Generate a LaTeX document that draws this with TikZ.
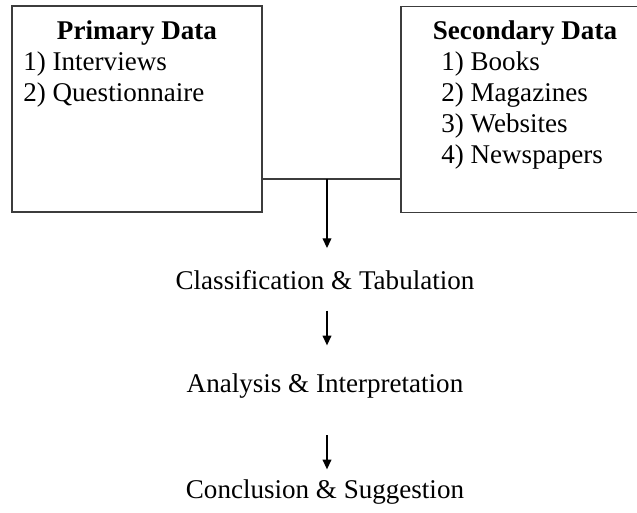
\documentclass[tikz,border=0pt]{standalone}
\usepackage{fontspec}
\setmainfont{Liberation Serif}
\usetikzlibrary{arrows.meta}
\definecolor{boxK}{RGB}{60,60,60}

\begin{document}
\begin{tikzpicture}[x=0.02cm,y=-0.02cm,>={Triangle[length=5.6pt,width=5pt]},
  every node/.style={inner sep=0pt,font=\fontsize{15.4}{18}\selectfont},
  databox/.style={draw=boxK,line width=0.9pt,minimum height=4.12cm}]
\useasboundingbox (0,0) rectangle (637,513);
\clip (0,0) rectangle (637,513);
% the two sources of data
\node[databox,minimum width=5cm] (prim) at (137,109) {};
\node[databox,minimum width=5.2cm] (sec) at (531,109.5) {};
\node[anchor=base] (primT) at (137,40) {\textbf{Primary Data}};
\node[anchor=base west] (prim1) at (23,71) {1) Interviews};
\node[anchor=base west] (prim2) at (23,102) {2) Questionnaire};
\node[anchor=base] (secT) at (525,40) {\textbf{Secondary Data}};
\node[anchor=base west] (sec1) at (441,71) {1) Books};
\node[anchor=base west] (sec2) at (441,102) {2) Magazines};
\node[anchor=base west] (sec3) at (441,133) {3) Websites};
\node[anchor=base west] (sec4) at (441,164) {4) Newspapers};
% the steps
\node[anchor=base] (cls) at (325,290) {Classification \& Tabulation};
\node[anchor=base] (ana) at (325,393) {Analysis \& Interpretation};
\node[anchor=base] (conc) at (325,499) {Conclusion \& Suggestion};
% joining line and arrows
\coordinate (junc) at (327,179);
\draw[boxK,line width=0.9pt] (prim.east |- junc) -- (sec.west |- junc);
\draw[->,line width=0.8pt,shorten >=0.45cm] (junc) -- (junc |- cls.north);
\draw[->,line width=0.8pt,shorten <=0.4cm,shorten >=0.57cm] (junc |- cls.south) -- (junc |- ana.north);
\draw[->,line width=0.8pt,shorten <=0.72cm,shorten >=0.21cm] (junc |- ana.south) -- (junc |- conc.north);
\end{tikzpicture}
\end{document}
